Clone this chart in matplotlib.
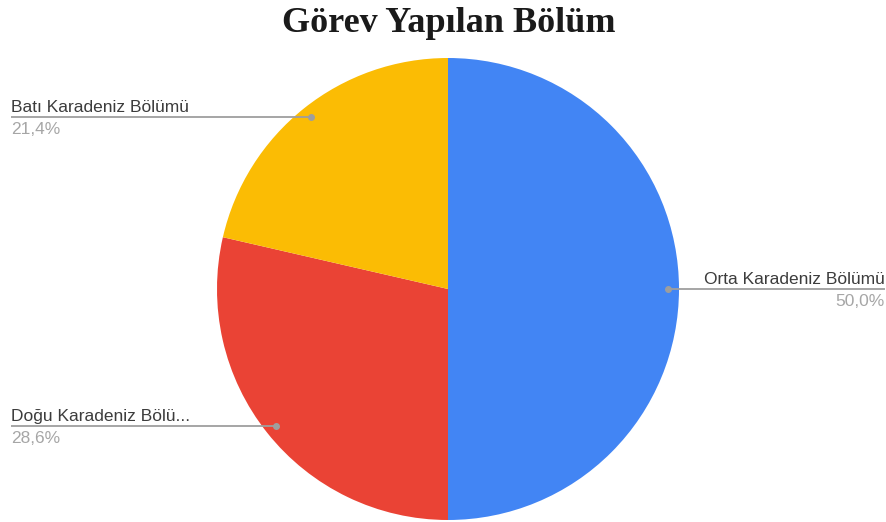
import numpy as np
import matplotlib.pyplot as plt

labels = ["Orta Karadeniz Bölümü", "Doğu Karadeniz Bölümü", "Batı Karadeniz Bölümü"]
shown_labels = ["Orta Karadeniz Bölümü", "Doğu Karadeniz Bölü...", "Batı Karadeniz Bölümü"]
values = [50.0, 28.6, 21.4]
colors = ["#4285F4", "#EA4335", "#FBBC04"]
title = "Görev Yapılan Bölüm"

W, H = 887, 522
fig = plt.figure(figsize=(W / 100, H / 100), dpi=100)
ax = fig.add_axes([0, 0, 1, 1])

cx, cy, r = 448, H - 289, 231
wedges, _ = ax.pie(values, colors=colors, startangle=90, counterclock=False,
                   center=(cx, cy), radius=r, frame=True,
                   wedgeprops=dict(linewidth=0))
ax.set_xlim(0, W)
ax.set_ylim(0, H)
ax.set_aspect("equal")
ax.axis("off")

line_col = "#9e9e9e"
for w, name, val in zip(wedges, shown_labels, values):
    mid = np.deg2rad((w.theta1 + w.theta2) / 2)
    px = cx + 0.952 * r * np.cos(mid)
    py = cy + 0.952 * r * np.sin(mid)
    pct = f"{val:.1f}%".replace(".", ",")
    if np.cos(mid) > 0.01:
        x_end, ha = W - 2, "right"
    else:
        x_end, ha = 11, "left"
    ax.plot([px, x_end], [py, py], color=line_col, lw=1.3, solid_capstyle="butt")
    ax.plot(px, py, "o", color=line_col, ms=4)
    ax.text(x_end, py + 5, name, ha=ha, va="baseline", fontsize=12.5,
            family="Liberation Sans", color="#3c3c3c")
    ax.text(x_end, py - 17, pct, ha=ha, va="baseline", fontsize=12.5,
            family="Liberation Sans", color="#a6a6a6")

fig.text(449 / W, 1 - 32 / H, title, ha="center", va="baseline",
         fontsize=26, fontweight="bold", family="Liberation Serif", color="#1a1a1a")

fig.savefig("out.png", dpi=100)
